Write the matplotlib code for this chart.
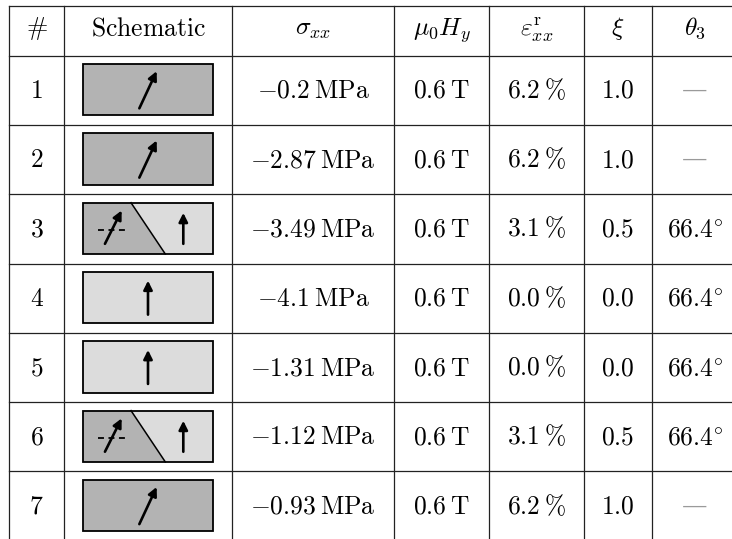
import numpy as np
import matplotlib
matplotlib.use("Agg")
import matplotlib.pyplot as plt
from matplotlib.patches import Rectangle, Polygon

plt.rcParams['mathtext.fontset'] = 'cm'

# --- Table data ---
headers = [r'$\#$', r'$\mathrm{Schematic}$', r'$\sigma_{xx}$', r'$\mu_0 H_y$',
           r'$\varepsilon^{\mathrm{r}}_{xx}$', r'$\xi$', r'$\theta_3$']
row_ids = ['1', '2', '3', '4', '5', '6', '7']
schematic = ['tilted', 'tilted', 'split', 'vertical', 'vertical', 'split', 'tilted']
stress = ['-0.2', '-2.87', '-3.49', '-4.1', '-1.31', '-1.12', '-0.93']      # MPa
field = ['0.6', '0.6', '0.6', '0.6', '0.6', '0.6', '0.6']                  # T
strain = ['6.2', '6.2', '3.1', '0.0', '0.0', '3.1', '6.2']                 # %
xi = ['1.0', '1.0', '0.5', '0.0', '0.0', '0.5', '1.0']
theta3 = [None, None, '66.4', '66.4', '66.4', '66.4', None]                # degrees

# --- Layout (pixel coordinates) ---
W, H = 732, 539
col_edges = [9.3, 64, 232, 394, 489, 584, 652, 738]
top, head_bot, row_h = 5.7, 55.7, 69.3
fs = 18.4
line_kw = dict(color='#222222', lw=0.9)

fig = plt.figure(figsize=(W / 100, H / 100), dpi=100)
ax = fig.add_axes([0, 0, 1, 1])
ax.set_xlim(0, W)
ax.set_ylim(H, 0)
ax.axis('off')

# grid lines
for x in col_edges[:-1]:
    ax.plot([x, x], [top, H + 5], **line_kw)
row_edges = [top, head_bot] + [head_bot + row_h * (i + 1) for i in range(len(row_ids))]
for y in row_edges:
    ax.plot([col_edges[0], W + 5], [y, y], **line_kw)

centers = [(col_edges[i] + col_edges[i + 1]) / 2 for i in range(len(col_edges) - 1)]

# header
for c, h in zip(centers, headers):
    ax.text(c, 35, h, ha='center', va='baseline', fontsize=fs)


def arrow(x0, y0, x1, y1):
    ax.annotate('', xy=(x1, y1), xytext=(x0, y0),
                arrowprops=dict(arrowstyle='-|>', color='black', lw=1.9,
                                mutation_scale=13, shrinkA=0, shrinkB=0))


def draw_schematic(kind, cx, cy):
    bw, bh = 130.6, 51.3
    x0, y0 = cx - bw / 2, cy - bh / 2
    dark, light = '#b3b3b3', '#dcdcdc'
    if kind == 'tilted':
        ax.add_patch(Rectangle((x0, y0), bw, bh, fc=dark, ec='black', lw=1.3))
        ang = np.deg2rad(65)
        L = 41
        dx, dy = L / 2 * np.cos(ang), L / 2 * np.sin(ang)
        arrow(cx - dx, cy + dy, cx + dx, cy - dy)
    elif kind == 'vertical':
        ax.add_patch(Rectangle((x0, y0), bw, bh, fc=light, ec='black', lw=1.3))
        arrow(cx, cy + 17, cx, cy - 17)
    else:
        ax.add_patch(Rectangle((x0, y0), bw, bh, fc=light, ec='none'))
        ax.add_patch(Polygon([(x0, y0), (x0 + 48.3, y0), (x0 + 82.6, y0 + bh), (x0, y0 + bh)],
                             closed=True, fc=dark, ec='none'))
        ax.plot([x0 + 48.3, x0 + 82.6], [y0, y0 + bh], color='black', lw=1.1)
        ax.add_patch(Rectangle((x0, y0), bw, bh, fc='none', ec='black', lw=1.3))
        # dashed reference line and tilted arrow on the left domain
        ax.plot([x0 + 15.6, x0 + 45.6], [cy + 1.5, cy + 1.5], color='black', lw=1.3,
                ls=(0, (3.3, 2.5)))
        ang = np.deg2rad(63.4)
        L = 37.3
        ax_c, ay_c = x0 + 30.6, cy - 1.2
        dx, dy = L / 2 * np.cos(ang), L / 2 * np.sin(ang)
        arrow(ax_c - dx, ay_c + dy, ax_c + dx, ay_c - dy)
        # vertical arrow on the right domain
        arrow(x0 + 100.6, cy + 15.5, x0 + 100.6, cy - 15.5)


for i in range(len(row_ids)):
    cy = head_bot + row_h * (i + 0.5)
    base = cy + 7.5
    ax.text(centers[0], base, r'$%s$' % row_ids[i], ha='center', va='baseline', fontsize=fs)
    draw_schematic(schematic[i], centers[1], cy - 0.6)
    ax.text(centers[2], base, r'$%s\:\mathrm{MPa}$' % stress[i],
            ha='center', va='baseline', fontsize=fs)
    ax.text(centers[3], base, r'$%s\:\mathrm{T}$' % field[i], ha='center', va='baseline', fontsize=fs)
    ax.text(centers[4], base, r'$%s\:\%%$' % strain[i], ha='center', va='baseline', fontsize=fs)
    ax.text(centers[5], base, r'$%s$' % xi[i], ha='center', va='baseline', fontsize=fs)
    if theta3[i] is None:
        ax.text(centers[6], cy, '\u2014', ha='center', va='center', fontsize=fs,
                color='#9a9a9a', family='DejaVu Serif')
    else:
        ax.text(centers[6], base, r'$%s^{\circ}$' % theta3[i], ha='center', va='baseline', fontsize=fs)

fig.savefig('out.png', dpi=100)
